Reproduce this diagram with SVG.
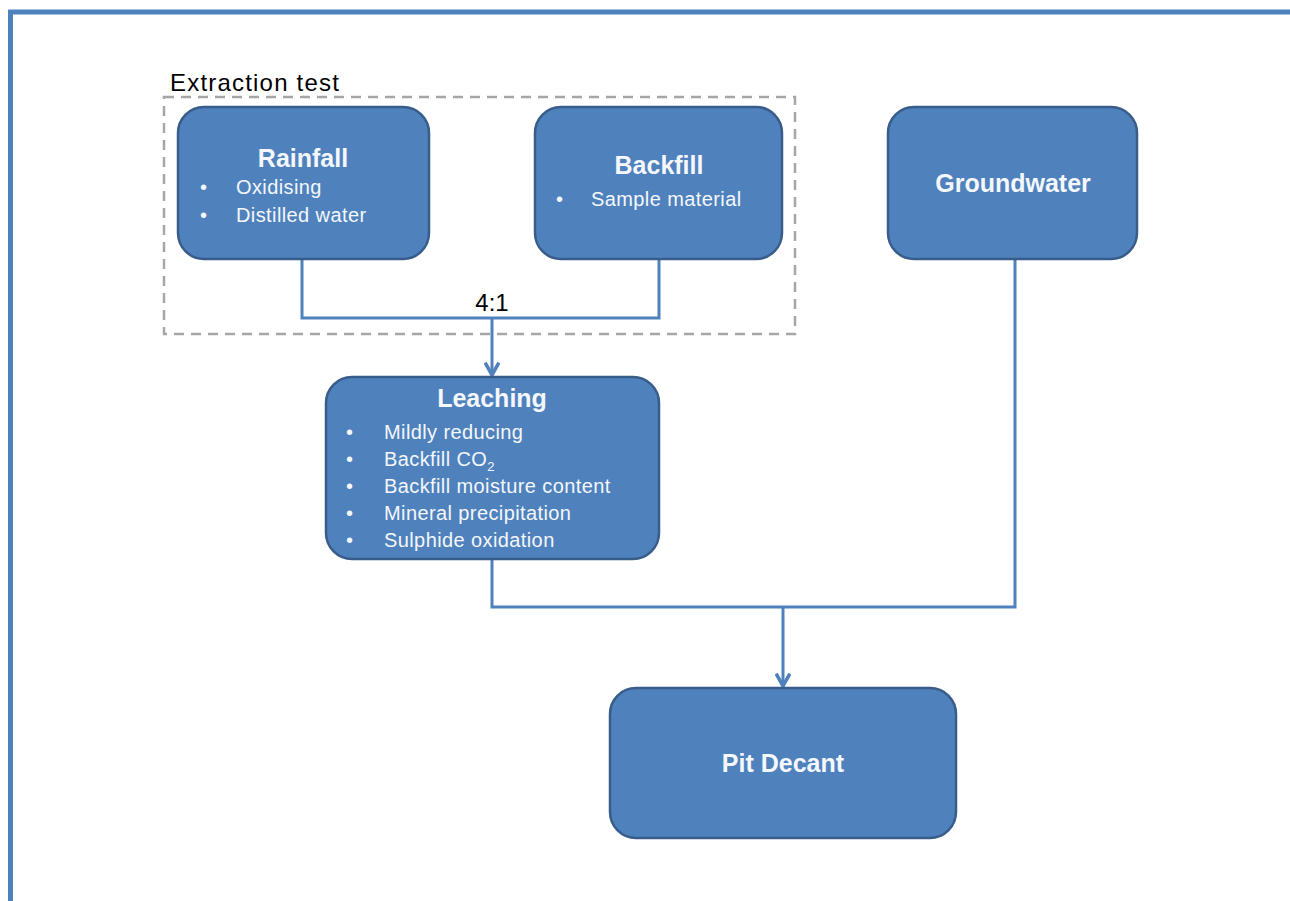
<svg xmlns="http://www.w3.org/2000/svg" width="1290" height="901" viewBox="0 0 1290 901">
<defs>
<style>
.box{fill:#4F81BD;stroke:#385D8A;stroke-width:2.5}
.t{font-family:"Liberation Sans",Arial,sans-serif;fill:#F4F7FB}
.h{font-size:25px;font-weight:bold;text-anchor:middle}
.b{font-size:20px;letter-spacing:0.4px}
.c{fill:none;stroke:#4F81BD;stroke-width:3}
</style>
<marker id="arr" viewBox="0 0 12 12" refX="10" refY="6" markerWidth="5.5" markerHeight="5.5" orient="auto" markerUnits="strokeWidth">
<path d="M1,1 L10,6 L1,11" fill="none" stroke="#4F81BD" stroke-width="2.6"/>
</marker>
</defs>
<rect x="0" y="0" width="1290" height="901" fill="#ffffff"/>
<rect x="10.5" y="12" width="1300" height="920" fill="none" stroke="#4F81BD" stroke-width="5"/>
<g id="extraction-test">
<rect x="164" y="97" width="631" height="237" fill="none" stroke="#A6A6A6" stroke-width="2.5" stroke-dasharray="10,7"/>
<text x="170" y="91" font-family="Liberation Sans,Arial,sans-serif" font-size="24" letter-spacing="1.2" fill="#000">Extraction test</text>
</g>
<g id="connectors">
<polyline class="c" points="302,259 302,318 659,318 659,259"/>
<line class="c" x1="492" y1="318" x2="492" y2="375" marker-end="url(#arr)"/>
<polyline class="c" points="492,559 492,607 1015,607 1015,259"/>
<line class="c" x1="783" y1="607" x2="783" y2="686" marker-end="url(#arr)"/>
<text x="492" y="311" font-family="Liberation Sans,Arial,sans-serif" font-size="24" fill="#000" text-anchor="middle">4:1</text>
</g>
<g id="rainfall">
<rect class="box" x="178" y="107" width="251" height="152" rx="26"/>
<text class="t h" x="303" y="167">Rainfall</text>
<text class="t b" x="200" y="194">•</text><text class="t b" x="236" y="194">Oxidising</text>
<text class="t b" x="200" y="222">•</text><text class="t b" x="236" y="222">Distilled water</text>
</g>
<g id="backfill">
<rect class="box" x="535" y="107" width="247" height="152" rx="26"/>
<text class="t h" x="659" y="174">Backfill</text>
<text class="t b" x="556" y="206">•</text><text class="t b" x="591" y="206">Sample material</text>
</g>
<g id="groundwater">
<rect class="box" x="888" y="107" width="249" height="152" rx="26"/>
<text class="t h" x="1013" y="192">Groundwater</text>
</g>
<g id="leaching">
<rect class="box" x="326" y="377" width="333" height="182" rx="26"/>
<text class="t h" x="492" y="407">Leaching</text>
<text class="t b" x="346" y="439">•</text><text class="t b" x="384" y="439">Mildly reducing</text>
<text class="t b" x="346" y="466">•</text><text class="t b" x="384" y="466">Backfill CO<tspan font-size="13" dy="5">2</tspan></text>
<text class="t b" x="346" y="493">•</text><text class="t b" x="384" y="493">Backfill moisture content</text>
<text class="t b" x="346" y="520">•</text><text class="t b" x="384" y="520">Mineral precipitation</text>
<text class="t b" x="346" y="547">•</text><text class="t b" x="384" y="547">Sulphide oxidation</text>
</g>
<g id="pit-decant">
<rect class="box" x="610" y="688" width="346" height="150" rx="26"/>
<text class="t h" x="783" y="772">Pit Decant</text>
</g>
</svg>
